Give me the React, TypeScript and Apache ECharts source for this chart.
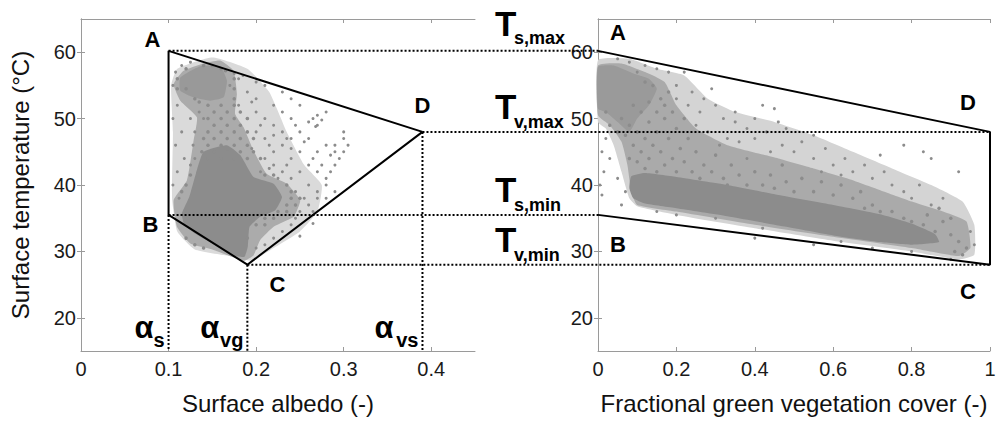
import React, { useEffect, useRef } from "react";
import * as echarts from "echarts";

// ---- axis ticks ----
const albedoTicks = [0, 0.1, 0.2, 0.3, 0.4];
const fvcTicks = [0, 0.2, 0.4, 0.6, 0.8, 1];
const tempTicks = [20, 30, 40, 50, 60];

// ---- key end-members ----
const keyTemps = [60.2, 48, 35.5, 28]; // Ts,max  Tv,max  Ts,min  Tv,min
const keyTempNames = ["s,max", "v,max", "s,min", "v,min"];
const keyAlbedos = [0.1, 0.19, 0.39]; // alpha_s, alpha_vg, alpha_vs
const keyAlbedoNames = ["s", "vg", "vs"];

// polygon A-D-C-B in albedo space
const polyAlbedo = [
  [0.1, 60.2],
  [0.39, 48],
  [0.19, 28],
  [0.1, 35.5],
  [0.1, 60.2],
];
// trapezoid A-D-C-B in vegetation-cover space
const polyFvc = [
  [0, 60.2],
  [1, 48],
  [1, 28],
  [0, 35.5],
];

// ---- left panel: point-cloud density zones (albedo, temperature) ----
const leftLightZone = [
  [0.103, 55], [0.11, 57.5], [0.15, 59.2], [0.19, 57.5], [0.215, 54], [0.235, 48], [0.255, 43],
  [0.275, 40], [0.27, 36], [0.25, 33], [0.22, 30.5], [0.195, 28.6], [0.17, 29.3], [0.13, 30.3],
  [0.11, 33], [0.104, 38], [0.105, 48],
];
const leftMediumZone = [
  [0.1058, 55.2], [0.1172, 57.2], [0.14, 58.3], [0.159, 58.75], [0.1743, 57.2], [0.178, 53.7],
  [0.176, 50.7], [0.1857, 48.7], [0.197, 45.2], [0.212, 41.7], [0.235, 40.2], [0.2504, 37.7],
  [0.2428, 35.2], [0.22, 33.7], [0.2047, 31.7], [0.197, 29.4], [0.1857, 28.6], [0.15, 30.3],
  [0.1248, 31.2], [0.1096, 33.7], [0.1058, 37.7], [0.121, 40.7], [0.1286, 46.7], [0.1324, 50.2],
  [0.1134, 52.7],
];
const leftTopZone = [
  [0.1134, 56.2], [0.1362, 57.9], [0.159, 57.9], [0.1667, 55.7], [0.1629, 53.2], [0.1476, 52.7],
  [0.1286, 53.2], [0.1134, 54.2],
];
const leftDenseZone = [
  [0.14, 45], [0.1667, 46], [0.1819, 44.5], [0.1971, 41.2], [0.2199, 40.2], [0.2296, 38.2],
  [0.2219, 36.2], [0.2047, 35.2], [0.1925, 33.7], [0.1905, 30.7], [0.1867, 29.2], [0.1743, 29.4],
  [0.15, 31.2], [0.13, 32.7], [0.118, 34], [0.1152, 35.7], [0.1236, 38.2], [0.1312, 41.7],
];
const leftMedium = [
  [0.145, 52], [0.16, 52], [0.175, 52], [0.152, 51], [0.167, 51], [0.182, 51],
  [0.145, 50], [0.16, 50], [0.175, 50], [0.19, 50], [0.152, 49], [0.167, 49], [0.182, 49],
  [0.145, 48], [0.16, 48], [0.175, 48], [0.19, 48], [0.14, 47], [0.152, 47], [0.167, 47], [0.182, 47], [0.197, 47],
  [0.145, 46], [0.16, 46], [0.175, 46], [0.19, 46], [0.138, 45], [0.152, 45], [0.167, 45], [0.182, 45], [0.197, 45],
  [0.145, 44], [0.16, 44], [0.175, 44], [0.19, 44], [0.205, 44],
  [0.125, 41.5], [0.21, 41.5], [0.22, 41.5], [0.12, 40], [0.235, 40], [0.24, 39], [0.115, 39],
  [0.24, 38], [0.25, 38], [0.235, 37], [0.245, 37], [0.225, 36], [0.235, 36],
  [0.21, 35], [0.22, 35], [0.2, 34], [0.21, 34], [0.19, 32], [0.13, 31], [0.14, 30.5], [0.12, 32],
  [0.14, 58], [0.15, 58], [0.16, 57.5], [0.165, 57.2], [0.12, 57.5], [0.11, 56], [0.175, 56],
  [0.11, 54.5], [0.12, 54.5], [0.175, 54.5], [0.13, 53], [0.175, 53], [0.135, 52.5],
];
const leftSparse = [
  [0.19, 54], [0.2, 53], [0.21, 55], [0.22, 52], [0.2, 51], [0.21, 50], [0.22, 49], [0.23, 51],
  [0.24, 50], [0.23, 48], [0.24, 47], [0.25, 48], [0.26, 47], [0.25, 45], [0.24, 44], [0.23, 46],
  [0.22, 45], [0.21, 47], [0.2, 48], [0.21, 44], [0.22, 43], [0.23, 42], [0.24, 41], [0.25, 42],
  [0.26, 43], [0.27, 42], [0.26, 40], [0.27, 39], [0.28, 40], [0.28, 41], [0.29, 43], [0.27, 45],
  [0.28, 46], [0.29, 45], [0.29, 46], [0.3, 47], [0.3, 45], [0.295, 44], [0.285, 44.5], [0.3, 48],
  [0.305, 46], [0.26, 49.5], [0.265, 50], [0.27, 49], [0.27, 50.5], [0.275, 49.8], [0.268, 48.8],
  [0.28, 51], [0.25, 52], [0.24, 53], [0.23, 54], [0.18, 56], [0.185, 56.5], [0.175, 56.8],
  [0.2, 55.5], [0.17, 55], [0.18, 52], [0.19, 50], [0.195, 52.5], [0.205, 49], [0.215, 46],
  [0.195, 45.5], [0.205, 42], [0.215, 42.5], [0.225, 41], [0.235, 43], [0.245, 39], [0.255, 38],
  [0.26, 37], [0.25, 36], [0.245, 35], [0.24, 34], [0.23, 33], [0.22, 32], [0.21, 31], [0.2, 30.5],
  [0.265, 36], [0.27, 38], [0.25, 32.3], [0.265, 34.2], [0.11, 52], [0.105, 50], [0.115, 48],
  [0.108, 46], [0.118, 44], [0.11, 42], [0.105, 40], [0.112, 38], [0.105, 55], [0.108, 57],
  [0.115, 58], [0.125, 58.5], [0.125, 50], [0.13, 48], [0.128, 46], [0.135, 51], [0.13, 44],
  [0.125, 43], [0.14, 50], [0.24, 45.5], [0.255, 46.5], [0.245, 49], [0.235, 47], [0.22, 47.5],
  [0.265, 44], [0.275, 43], [0.285, 42], [0.28, 38], [0.29, 39],
];

// ---- right panel: point-cloud density zones (vegetation cover, temperature) ----
const rightLightZone = [
  [0, 58.8], [0.08, 59], [0.15, 57.5], [0.22, 56.5], [0.28, 53], [0.35, 51], [0.45, 49.5],
  [0.55, 47.5], [0.65, 45], [0.75, 42.5], [0.85, 40], [0.93, 37.5], [0.96, 34], [0.96, 29.5],
  [0.92, 28.8], [0.8, 30], [0.6, 31.6], [0.4, 33.5], [0.2, 35.5], [0.1, 36.8], [0.08, 38],
  [0.06, 42], [0.04, 46], [0.02, 48.5], [0, 49.5],
];
const rightMediumZone = [
  [0, 58], [0.06, 58.3], [0.12, 57], [0.17, 55.5], [0.2, 52], [0.25, 48.5], [0.33, 46], [0.46, 44],
  [0.55, 42.5], [0.635, 41], [0.72, 39.2], [0.8, 37.5], [0.88, 36], [0.94, 34.5], [0.95, 30.5],
  [0.92, 29.3], [0.8, 30.5], [0.6, 32.2], [0.4, 34], [0.2, 36], [0.1, 37], [0.085, 39], [0.075, 43],
  [0.06, 46.5], [0.03, 49], [0, 50.5],
];
const rightTopZone = [
  [0, 57.8], [0.04, 58], [0.09, 56.8], [0.13, 56], [0.15, 54.5], [0.13, 52], [0.1, 50], [0.08, 48],
  [0.05, 49.5], [0.02, 51], [0, 51.5],
];
const rightDenseZone = [
  [0.085, 41.3], [0.12, 41.8], [0.2, 41.2], [0.33, 40], [0.46, 38.5], [0.6, 37], [0.72, 35.6],
  [0.8, 34.2], [0.86, 32.6], [0.87, 31.4], [0.8, 31], [0.72, 31.4], [0.6, 32.4], [0.48, 33.7],
  [0.33, 35.3], [0.2, 36.5], [0.12, 37.2], [0.09, 38], [0.08, 39.5],
];
const rightMedium = [
  [0.06, 50], [0.08, 49], [0.1, 48], [0.07, 47.5], [0.09, 46], [0.11, 45], [0.1, 43.5], [0.12, 42.5],
  [0.13, 44], [0.12, 47], [0.14, 46], [0.15, 48], [0.13, 49.5], [0.11, 51], [0.09, 52], [0.13, 52.5],
  [0.15, 51], [0.17, 50], [0.16, 53], [0.18, 54], [0.14, 55], [0.12, 55.5], [0.16, 45], [0.18, 47],
  [0.17, 43], [0.19, 44], [0.2, 42], [0.21, 45.5], [0.22, 43.5], [0.24, 42], [0.23, 47], [0.25, 45],
  [0.27, 43], [0.26, 41], [0.29, 42], [0.3, 44.5], [0.32, 41], [0.34, 43], [0.33, 40], [0.36, 41.5],
  [0.38, 40], [0.4, 42], [0.42, 40], [0.44, 41.5], [0.45, 39.5], [0.48, 40.5], [0.5, 39], [0.47, 43],
  [0.52, 41], [0.55, 39], [0.57, 40.5], [0.6, 38.5], [0.62, 40], [0.65, 38], [0.67, 39], [0.7, 37],
  [0.72, 36], [0.68, 36.5], [0.75, 36], [0.78, 35], [0.8, 34.5], [0.83, 34], [0.86, 33], [0.9, 32.5],
  [0.92, 31.5], [0.94, 30.5], [0.91, 30], [0.93, 29.5], [0.88, 34.5], [0.9, 35], [0.84, 35.5],
  [0.87, 36.5], [0.2, 48.5], [0.19, 51], [0.17, 52], [0.22, 50], [0.02, 51], [0.03, 49], [0.05, 48],
  [0.15, 42], [0.08, 44],
];
const rightSparse = [
  [0.22, 57], [0.2, 55], [0.24, 54], [0.27, 53], [0.3, 52], [0.29, 54.5], [0.26, 51], [0.32, 50],
  [0.35, 49.5], [0.38, 48.5], [0.33, 47], [0.36, 46.5], [0.4, 47], [0.43, 48], [0.42, 52], [0.46, 49.5],
  [0.47, 46], [0.5, 45], [0.52, 46.5], [0.55, 44], [0.58, 45.5], [0.6, 43], [0.63, 44], [0.65, 42],
  [0.68, 43], [0.7, 41], [0.73, 42], [0.75, 40], [0.78, 39], [0.8, 38], [0.82, 40], [0.85, 37],
  [0.88, 38], [0.83, 45], [0.85, 44], [0.92, 42], [0.78, 46], [0.72, 44.5], [0.55, 47.5], [0.48, 48.5],
  [0.44, 45], [0.38, 44], [0.31, 46], [0.28, 48], [0.25, 49], [0.23, 52], [0.2, 53], [0.18, 57],
  [0.15, 57.5], [0.12, 58], [0.05, 59], [0.08, 58.5], [0.1, 57], [0.02, 47], [0.01, 45], [0.015, 42],
  [0.005, 40], [0.01, 38.5], [0.03, 44], [0.05, 41], [0.06, 37], [0.07, 39], [0.4, 32], [0.42, 33.5],
  [0.55, 31], [0.62, 31.5], [0.7, 30.5], [0.8, 30], [0.9, 28.8], [0.3, 35], [0.2, 35.5], [0.15, 36],
  [0.95, 33], [0.96, 31], [0.57, 42], [0.62, 41.5], [0.35, 51], [0.4, 50], [0.45, 51.5],
];

const FONT = "Liberation Sans, Arial, Helvetica, sans-serif";
const PT = "#8c8c8c";
const BOX = "#9a9a9a";

function bottomAxis(grid: number, min: number, max: number, ticks: number[], name: string) {
  return {
    type: "value", gridIndex: grid, position: "bottom", min, max,
    name, nameLocation: "middle", nameGap: 40,
    nameTextStyle: { fontFamily: FONT, fontSize: 24, color: "#111" },
    axisLine: { show: true, lineStyle: { color: BOX, width: 1 } },
    axisTick: { show: true, inside: true, length: 4, customValues: ticks, lineStyle: { color: BOX } },
    axisLabel: { customValues: ticks, margin: 8, fontFamily: FONT, fontSize: 20, color: "#1a1a1a" },
    splitLine: { show: false },
  };
}
function topAxis(grid: number, min: number, max: number, ticks: number[]) {
  return {
    type: "value", gridIndex: grid, position: "top", min, max,
    axisLine: { show: true, lineStyle: { color: BOX, width: 1 } },
    axisTick: { show: true, inside: true, length: 4, customValues: ticks, lineStyle: { color: BOX } },
    axisLabel: { show: false },
    splitLine: { show: false },
  };
}
function leftAxis(grid: number, name: string) {
  return {
    type: "value", gridIndex: grid, position: "left", min: 15, max: 65,
    name, nameLocation: "middle", nameGap: 49,
    nameTextStyle: { fontFamily: FONT, fontSize: 24, color: "#111" },
    axisLine: { show: true, lineStyle: { color: BOX, width: 1 } },
    axisTick: { show: true, inside: true, length: 4, customValues: tempTicks, lineStyle: { color: BOX } },
    axisLabel: { customValues: tempTicks, margin: 5, fontFamily: FONT, fontSize: 20, color: "#1a1a1a" },
    splitLine: { show: false },
  };
}
function rightAxis(grid: number) {
  return {
    type: "value", gridIndex: grid, position: "right", min: 15, max: 65,
    axisLine: { show: true, lineStyle: { color: BOX, width: 1 } },
    axisTick: { show: true, inside: true, length: 4, customValues: tempTicks, lineStyle: { color: BOX } },
    axisLabel: { show: false },
    splitLine: { show: false },
  };
}

function zone(xi: number, poly: number[][], fill: string) {
  return {
    type: "custom", xAxisIndex: xi, yAxisIndex: xi, silent: true, z: 1,
    data: [poly[0]],
    renderItem: (_p: any, api: any) => ({
      type: "polygon",
      shape: { points: poly.map((pt) => api.coord(pt)), smooth: 0.15 },
      style: { fill, stroke: "none" },
    }),
  };
}
function scatter(xi: number, data: number[][], size: number) {
  return {
    type: "scatter", xAxisIndex: xi, yAxisIndex: xi, data, symbol: "circle", symbolSize: size,
    itemStyle: { color: PT, opacity: 1 }, silent: true, z: 2,
  };
}

export default function App() {
  const ref = useRef<HTMLDivElement>(null);
  useEffect(() => {
    document.body.style.margin = "0";
    const chart = echarts.init(ref.current!, null, { renderer: "svg" });
    const option: any = {
      animation: false,
      backgroundColor: "#fff",
      grid: [
        { left: 81, top: 19, width: 394, height: 332 },
        { left: 598, top: 19, width: 392, height: 332 },
      ],
      xAxis: [
        bottomAxis(0, 0, 0.45, albedoTicks, "Surface albedo (-)"),
        topAxis(0, 0, 0.45, albedoTicks),
        bottomAxis(1, 0, 1, fvcTicks, "Fractional green vegetation cover (-)"),
        topAxis(1, 0, 1, fvcTicks),
      ],
      yAxis: [
        leftAxis(0, "Surface temperature (°C)"),
        rightAxis(0),
        leftAxis(1, ""),
        rightAxis(1),
      ],
      series: [
        zone(0, leftLightZone, "#dadada"),
        zone(0, leftMediumZone, "#ababab"),
        zone(0, leftTopZone, "#999999"),
        zone(0, leftDenseZone, PT),
        scatter(0, leftSparse, 3),
        scatter(0, leftMedium, 3.5),
        zone(2, rightLightZone, "#d4d4d4"),
        zone(2, rightMediumZone, "#aaaaaa"),
        zone(2, rightTopZone, "#9a9a9a"),
        zone(2, rightDenseZone, PT),
        scatter(2, rightSparse, 3),
        scatter(2, rightMedium, 3.5),
        {
          type: "line", xAxisIndex: 0, yAxisIndex: 0, data: polyAlbedo, symbol: "none",
          lineStyle: { color: "#000", width: 2 }, z: 5, silent: true,
        },
        {
          type: "line", xAxisIndex: 2, yAxisIndex: 2, data: polyFvc, symbol: "none",
          lineStyle: { color: "#000", width: 2 }, z: 5, silent: true, clip: false,
        },
      ],
    };
    chart.setOption(option);

    const L = (p: number[]) => chart.convertToPixel({ xAxisIndex: 0, yAxisIndex: 0 }, p) as number[];
    const R = (p: number[]) => chart.convertToPixel({ xAxisIndex: 2, yAxisIndex: 2 }, p) as number[];
    const dot = { stroke: "#000", lineWidth: 2, lineDash: [2, 2] };
    const els: any[] = [];
    const hFrom = [[keyAlbedos[0], keyTemps[0]], [keyAlbedos[2], keyTemps[1]], [keyAlbedos[0], keyTemps[2]], [keyAlbedos[1], keyTemps[3]]];
    const hToX = [0, 1, 0, 1];
    hFrom.forEach((p, i) => {
      const a = L(p);
      const b = R([hToX[i], keyTemps[i]]);
      els.push({ type: "line", z: 100, shape: { x1: a[0], y1: a[1], x2: b[0], y2: b[1] }, style: dot, silent: true });
    });
    const vTop = [keyTemps[2], keyTemps[3], keyTemps[1]];
    keyAlbedos.forEach((x, i) => {
      const a = L([x, vTop[i]]);
      const b = L([x, 15]);
      els.push({ type: "line", z: 100, shape: { x1: a[0], y1: a[1], x2: b[0], y2: b[1] }, style: dot, silent: true });
    });
    const txt = (x: number, y: number, text: string, size: number, align = "center") => ({
      type: "text", z: 110, x, y, silent: true,
      style: { text, fill: "#000", font: `bold ${size}px ${FONT}`, align, verticalAlign: "middle" },
    });
    const la = L(polyAlbedo[0]), lb = L(polyAlbedo[3]), lc = L(polyAlbedo[2]), ld = L(polyAlbedo[1]);
    els.push(txt(la[0] - 16, la[1] - 11, "A", 22));
    els.push(txt(lb[0] - 18, lb[1] + 10, "B", 22));
    els.push(txt(lc[0] + 30, lc[1] + 20, "C", 22));
    els.push(txt(ld[0], ld[1] - 26, "D", 22));
    const ra = R(polyFvc[0]), rd = R(polyFvc[1]), rc = R(polyFvc[2]), rb = R(polyFvc[3]);
    els.push(txt(ra[0] + 20, ra[1] - 18, "A", 22));
    els.push(txt(rd[0] - 22, rd[1] - 29, "D", 22));
    els.push(txt(rb[0] + 20, rb[1] + 30, "B", 22));
    els.push(txt(rc[0] - 22, rc[1] + 27, "C", 22));
    const alphaOff = [11, 24, 25];
    keyAlbedos.forEach((x, i) => {
      const p = L([x, 15]);
      els.push(txt(p[0] - 4, p[1] - 11, keyAlbedoNames[i], 20, "right"));
      els.push(txt(p[0] - 4 - alphaOff[i], p[1] - 24, "α", 31, "right"));
    });
    keyTemps.forEach((t, i) => {
      const p = R([0, t]);
      const tOff = i === 0 ? 27 : 25;
      const sOff = i === 0 ? 13 : 10;
      els.push(txt(495, p[1] - tOff, "T", 35, "left"));
      els.push(txt(514, p[1] - sOff, keyTempNames[i], 18, "left"));
    });
    chart.setOption({ graphic: { elements: els } });
    return () => chart.dispose();
  }, []);
  return <div ref={ref} style={{ width: 1005, height: 421 }} />;
}
